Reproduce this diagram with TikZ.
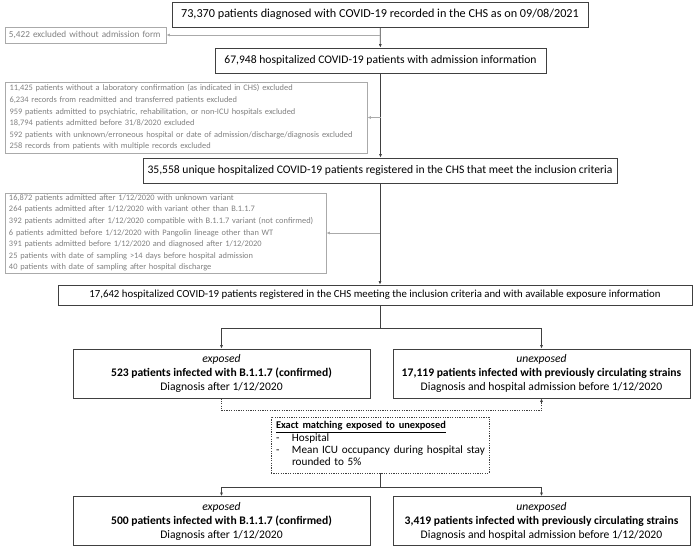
\documentclass[tikz,border=0pt]{standalone}
\usepackage{fontspec}
\setmainfont{Carlito}
\usetikzlibrary{arrows.meta,positioning}
\definecolor{flowdark}{RGB}{64,64,64}
\definecolor{flowgray}{RGB}{128,128,128}
\definecolor{flowline}{RGB}{170,170,170}

\begin{document}
\begin{tikzpicture}[x=1pt,y=-1pt,
  every node/.style={font=\fontsize{11.2}{13}\selectfont, inner sep=0pt},
  mainbox/.style={draw=flowdark, line width=0.8pt, align=center, minimum height=25pt},
  exclbox/.style={draw=flowline, line width=0.8pt, align=left, text=flowgray,
                  font=\fontsize{8.4}{11.6}\selectfont},
  groupbox/.style={mainbox, minimum width=297pt, minimum height=49pt,
                   font=\fontsize{11.6}{14}\selectfont},
  matchbox/.style={draw=flowdark, line width=0.6pt, dash pattern=on 1.2pt off 1.2pt,
                   minimum width=218pt, minimum height=56pt, text width=208pt,
                   align=left, font=\fontsize{11.2}{12.3}\selectfont},
  arr/.style={-{Latex[length=3.5pt,width=3pt]}, line width=0.7pt, draw=flowdark},
  garr/.style={-{Latex[length=3.5pt,width=3pt]}, line width=0.7pt, draw=flowline},
  dotarr/.style={arr, dash pattern=on 1.2pt off 1.2pt}
]
  \useasboundingbox (0,0) rectangle (700,549);

  \node[mainbox, minimum width=416pt, font=\fontsize{12.2}{13}\selectfont] (c1) at (380,14.5)
    {73,370 patients diagnosed with COVID-19 recorded in the CHS as on 09/08/2021};
  \node[exclbox, minimum width=161pt, minimum height=16pt, text width=153pt,
        font=\fontsize{9.2}{11}\selectfont] (x1) at (85.5,35)
    {5,422 excluded without admission form};
  \node[mainbox, minimum width=331pt, font=\fontsize{11.6}{13}\selectfont] (c2) at (380.5,60.5)
    {67,948 hospitalized COVID-19 patients with admission information};
  \node[exclbox, minimum width=362pt, minimum height=71pt, text width=353pt] (x2) at (186,117.5)
    {11,425 patients without a laboratory confirmation (as indicated in CHS) excluded\\
     6,234 records from readmitted and transferred patients excluded\\
     959 patients admitted to psychiatric, rehabilitation, or non-ICU hospitals excluded\\
     18,794 patients admitted before 31/8/2020 excluded\\
     592 patients with unknown/erroneous hospital or date of admission/discharge/diagnosis excluded\\
     258 records from patients with multiple records excluded};
  \node[mainbox, minimum width=474pt, font=\fontsize{11.6}{13}\selectfont] (c3) at (380,170.5)
    {35,558 unique hospitalized COVID-19 patients registered in the CHS that meet the inclusion criteria};
  \node[exclbox, minimum width=321pt, minimum height=80pt, text width=313pt] (x3) at (165.5,233)
    {16,872 patients admitted after 1/12/2020 with unknown variant\\
     264 patients admitted after 1/12/2020 with variant other than B.1.1.7\\
     392 patients admitted after 1/12/2020 compatible with B.1.1.7 variant (not confirmed)\\
     6 patients admitted before 1/12/2020 with Pangolin lineage other than WT\\
     391 patients admitted before 1/12/2020 and diagnosed after 1/12/2020\\
     25 patients with date of sampling >14 days before hospital admission\\
     40 patients with date of sampling after hospital discharge};
  \node[mainbox, minimum width=634pt, minimum height=20pt, font=\fontsize{10.8}{13}\selectfont] (c4) at (375,295)
    {17,642 hospitalized COVID-19 patients registered in the CHS meeting the inclusion criteria and with available exposure information};

  \node[groupbox] (e1) at (221.5,373.5)
    {\textit{exposed}\\\textbf{523 patients infected with B.1.1.7 (confirmed)}\\Diagnosis after 1/12/2020};
  \node[groupbox] (u1) at (541.5,373.5)
    {\textit{unexposed}\\\textbf{17,119 patients infected with previously circulating strains}\\Diagnosis and hospital admission before 1/12/2020};
  \node[matchbox] (m) at (380,445)
    {\begin{tabular}{@{}p{16pt}@{}l@{}}
       \multicolumn{2}{@{}l@{}}{\fontsize{10.4}{12.3}\selectfont\textbf{\underline{Exact matching exposed to unexposed}}}\\
       - & Hospital\\
       - & Mean ICU occupancy during hospital stay\\
         & rounded to 5\%
     \end{tabular}};
  \node[groupbox] (e2) at (221.5,521)
    {\textit{exposed}\\\textbf{500 patients infected with B.1.1.7 (confirmed)}\\Diagnosis after 1/12/2020};
  \node[groupbox] (u2) at (541.5,521)
    {\textit{unexposed}\\\textbf{3,419 patients infected with previously circulating strains}\\Diagnosis and hospital admission before 1/12/2020};

  \draw[arr] (c1) -- (c2);
  \draw[arr] (c2) -- (c2.south |- c3.north);
  \draw[arr] (c3.south) -- (c3.south |- c4.north);
  \draw[garr] (c1.south |- x1.east) -- (x1.east);
  \draw[garr] (c2.south |- x2.east) -- (x2.east);
  \draw[garr] (c3.south |- x3.east) -- (x3.east);

  \draw[arr] (c4.south -| c3.south) -- ++(0,23) -| (e1.north);
  \draw[arr] (c4.south -| c3.south) -- ++(0,23) -| (u1.north);
  \draw[dotarr] (e1.south) -- ++(0,12) -| (u1.south);
  \draw[arr] (m.south) -- ++(0,14) -| (e2.north);
  \draw[arr] (m.south) -- ++(0,14) -| (u2.north);
\end{tikzpicture}
\end{document}
